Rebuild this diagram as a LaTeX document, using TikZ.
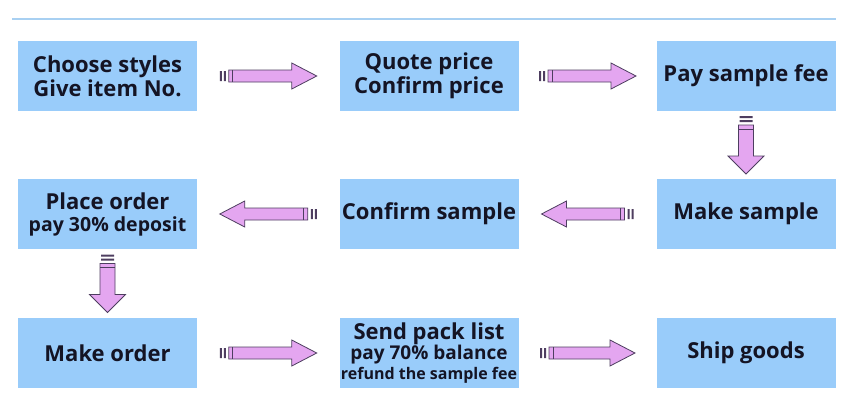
\documentclass[tikz,border=0pt]{standalone}
\usepackage{fontspec}
\setmainfont{Open Sans}
\usetikzlibrary{calc}
\definecolor{boxblue}{RGB}{153,204,250}
\definecolor{arrowpink}{RGB}{228,166,240}
\definecolor{arrowline}{RGB}{78,62,96}
\definecolor{topline}{RGB}{168,208,242}
\definecolor{textdark}{RGB}{20,20,36}
\tikzset{
  step box/.style={fill=boxblue, minimum width=179pt, minimum height=70pt,
    inner sep=0pt, align=center, text=textdark,
    font=\bfseries\fontsize{22}{24}\selectfont},
  fat arrow/.pic={
    \tikzset{/fatarrow/.cd, #1}
    \pgfmathsetmacro\halflen{\arrlen/2}
    \draw [arrowline, fill=arrowpink, line width=0.8pt]
    (-\halflen+9,-\arrshaft) -- (\halflen-\arrhead,-\arrshaft) -- (\halflen-\arrhead,-\arrwing)
    -- (\halflen,0) -- (\halflen-\arrhead,\arrwing) -- (\halflen-\arrhead,\arrshaft)
    -- (-\halflen+9,\arrshaft) -- cycle;
    \draw [arrowline, line width=0.8pt] (-\halflen+13,-\arrshaft) -- (-\halflen+13,\arrshaft);
    \fill [arrowline] (-\halflen,-\arrshaft+1) rectangle ++(2,2*\arrshaft-2)
      (-\halflen+4,-\arrshaft+1) rectangle ++(2,2*\arrshaft-2);
  },
  /fatarrow/.cd,
  length/.store in=\arrlen,
  shaft/.store in=\arrshaft,
  wing/.store in=\arrwing,
  head/.store in=\arrhead,
  length=97,
  shaft=6,
  wing=13,
  head=25,
}
\begin{document}
\begin{tikzpicture}[x=1pt, y=-1pt]
  \useasboundingbox (0,0) rectangle (856,404);
  \draw [topline, line width=2.5pt] (12,19) -- (836,19);

  \node [step box] (choose) at (107.5,76) {Choose styles\\Give item No.};
  \node [step box] (quote) at (429,76) {Quote price\\Confirm price};
  \node [step box] (fee) at (746,76) {Pay sample fee};

  \node [step box] (place) at (107.5,214) {Place order\\[-2pt]{\fontsize{19.5}{21}\selectfont pay 30\% deposit}};
  \node [step box] (confirm) at (429,214) {Confirm sample};
  \node [step box] (make) at (746,214) {Make sample};

  \node [step box] (order) at (107.5,353) {Make order};
  \node [step box] (pack) at (429,353) {Send pack list\\[-4pt]{\fontsize{19}{20}\selectfont pay 70\% balance}\\[-4pt]{\fontsize{16}{17}\selectfont refund the sample fee}};
  \node [step box] (ship) at (746,353) {Ship goods};

  \pic at ($(choose.east)!0.5!(quote.west)$) {fat arrow};
  \pic at ($(quote.east)!0.5!(fee.west)$) {fat arrow};
  \pic [rotate=-90] at ($(fee.south)!0.5!(make.north)$) {fat arrow={length=58, shaft=7.5, wing=18, head=18}};
  \pic [rotate=180] at ($(make.west)!0.5!(confirm.east)$) {fat arrow={length=92}};
  \pic [rotate=180] at ($(confirm.west)!0.5!(place.east)$) {fat arrow};
  \pic [rotate=-90] at ($(place.south)!0.5!(order.north)$) {fat arrow={length=58, shaft=7.5, wing=18, head=18}};
  \pic at ($(order.east)!0.5!(pack.west)$) {fat arrow};
  \pic at ($(pack.east)!0.5!(ship.west)$) {fat arrow={length=95}};
\end{tikzpicture}
\end{document}
